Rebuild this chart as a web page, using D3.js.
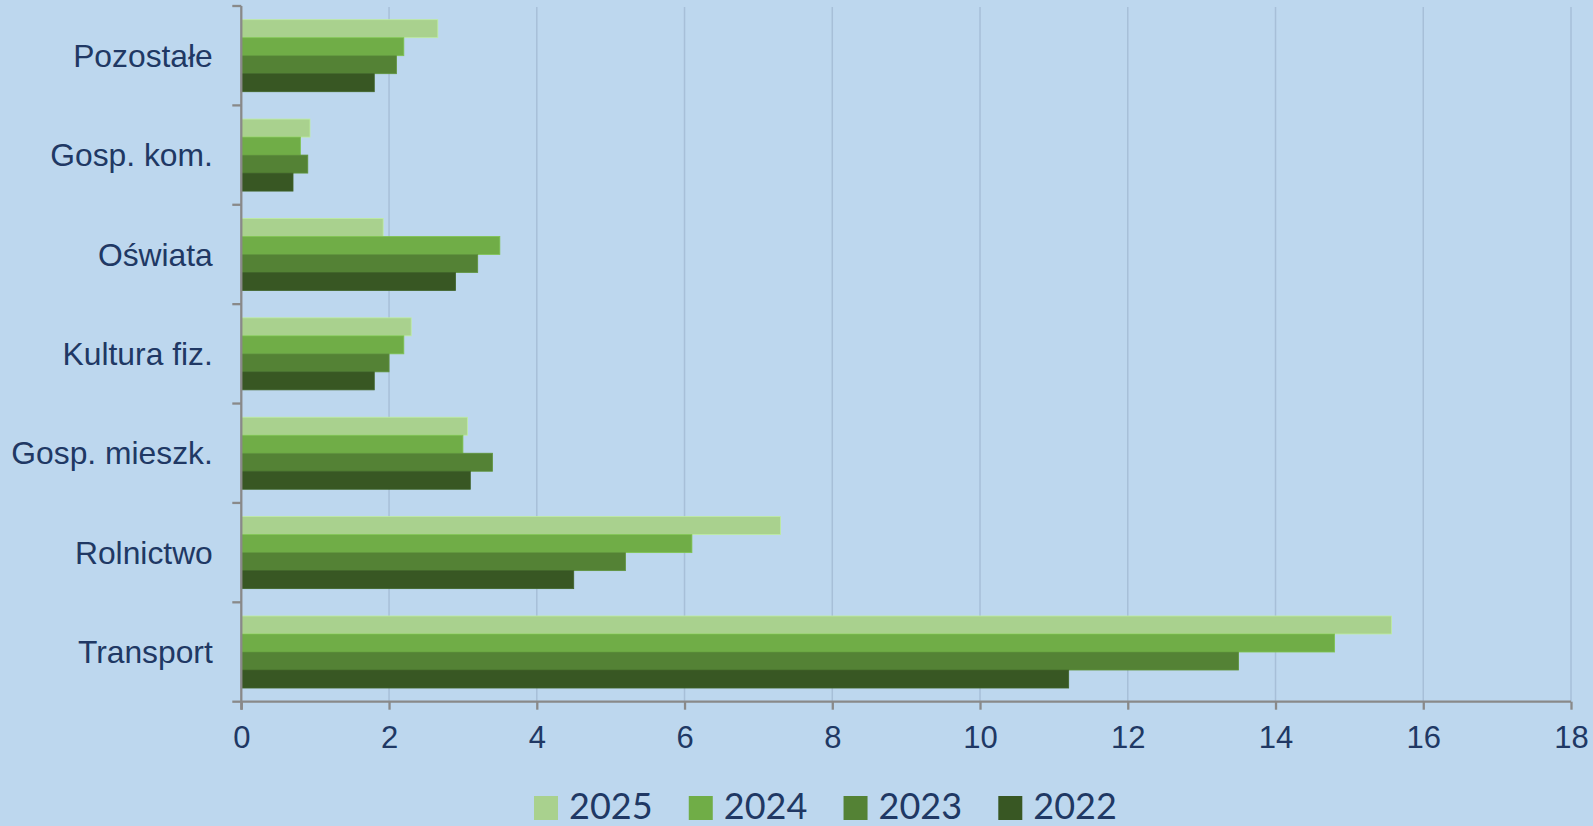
<!DOCTYPE html>
<html>
<head>
<meta charset="utf-8">
<script src="https://cdn.jsdelivr.net/npm/d3@7"></script>
<style>
  html, body { margin: 0; padding: 0; background: #bdd7ee; }
  svg { display: block; }
  .axis text { font-family: "Liberation Sans", Arial, sans-serif; fill: #203864; }
</style>
</head>
<body>
<div class="chart"></div>
<script>
// categories top to bottom
const categories = ['Pozostałe', 'Gosp. kom.', 'Oświata', 'Kultura fiz.', 'Gosp. mieszk.', 'Rolnictwo', 'Transport'];
const years = ['2025', '2024', '2023', '2022'];
const v2025 = [2.66, 0.93, 1.92, 2.3, 3.06, 7.3, 15.57];
const v2024 = [2.2, 0.8, 3.5, 2.2, 3.0, 6.1, 14.8];
const v2023 = [2.1, 0.9, 3.2, 2.0, 3.4, 5.2, 13.5];
const v2022 = [1.8, 0.7, 2.9, 1.8, 3.1, 4.5, 11.2];
const xTicks = [0, 2, 4, 6, 8, 10, 12, 14, 16, 18];
const colors = ['#a9d18e', '#70ad47', '#548235', '#385723'];

const seriesValues = {'2025': v2025, '2024': v2024, '2023': v2023, '2022': v2022};

const W = 1593, H = 826;
const plotLeft = 241.3, plotRight = 1571, plotTop = 6, plotBottom = 701.7;

const svg = d3.select('.chart').append('svg')
	.attr('width', W)
	.attr('height', H);

svg.append('rect').attr('width', W).attr('height', H).attr('fill', '#bdd7ee');

const xScale = d3.scaleLinear().domain([0, 18]).range([plotLeft, plotRight]);
const yScale = d3.scaleBand().domain(categories).range([plotTop, plotBottom]).padding(0);
const ySub = d3.scaleBand().domain(years).range([0, yScale.bandwidth()]).paddingInner(0).paddingOuter(0.76);
const color = d3.scaleOrdinal().domain(years).range(colors);

// gridlines
svg.append('g')
	.selectAll('line')
	.data(xTicks.slice(1))
	.enter()
	.append('line')
	.attr('x1', d => xScale(d)).attr('x2', d => xScale(d))
	.attr('y1', plotTop + 1).attr('y2', plotBottom)
	.attr('stroke', '#a7bfd8')
	.attr('stroke-width', 1.5);

// bars
const rows = [];
categories.forEach((c, i) => {
	years.forEach(y => rows.push({cat: c, year: y, value: seriesValues[y][i]}));
});

svg.append('g')
	.selectAll('rect')
	.data(rows)
	.enter()
	.append('rect')
	.attr('x', xScale(0))
	.attr('y', d => yScale(d.cat) + ySub(d.year))
	.attr('width', d => xScale(d.value) - xScale(0))
	.attr('height', ySub.bandwidth())
	.attr('fill', d => color(d.year))
	.attr('stroke', d => d3.color(color(d.year)).brighter(0.35))
	.attr('stroke-width', 0.8);

// x axis
const xAxis = d3.axisBottom(xScale).tickValues(xTicks).tickSize(8).tickPadding(16).tickFormat(d3.format('d'));
const gx = svg.append('g')
	.attr('class', 'axis x-axis')
	.attr('transform', `translate(0,${plotBottom})`)
	.call(xAxis);
gx.select('.domain').attr('stroke', '#898989').attr('stroke-width', 2.3).attr('d', `M${plotLeft},0H${plotRight}`);
gx.selectAll('.tick line').attr('stroke', '#898989').attr('stroke-width', 2.3);
gx.selectAll('.tick text').attr('font-size', '31px').attr('dy', '0.71em');

// y axis: ticks at band boundaries
const yAxisG = svg.append('g').attr('class', 'axis y-axis');
yAxisG.append('line')
	.attr('x1', plotLeft).attr('x2', plotLeft)
	.attr('y1', plotTop).attr('y2', plotBottom + 8)
	.attr('stroke', '#898989').attr('stroke-width', 2.3);
const bounds = categories.map(c => yScale(c)).concat([plotBottom]);
yAxisG.selectAll('.btick')
	.data(bounds)
	.enter()
	.append('line')
	.attr('class', 'btick')
	.attr('x1', plotLeft - 9).attr('x2', plotLeft)
	.attr('y1', d => d).attr('y2', d => d)
	.attr('stroke', '#898989').attr('stroke-width', 2.3);
yAxisG.selectAll('.lbl')
	.data(categories)
	.enter()
	.append('text')
	.attr('class', 'lbl')
	.attr('x', plotLeft - 28.5)
	.attr('y', d => yScale(d) + yScale.bandwidth() / 2)
	.attr('dy', '0.35em')
	.attr('text-anchor', 'end')
	.attr('font-size', '31.8px')
	.text(d => d);

// legend
const legend = svg.append('g').attr('class', 'legend');
const legX = d3.scalePoint().domain(years).range([534, 998.3]);
legend.selectAll('rect')
	.data(years)
	.enter()
	.append('rect')
	.attr('x', d => legX(d))
	.attr('y', 796)
	.attr('width', 24)
	.attr('height', 24)
	.attr('fill', d => color(d));
legend.selectAll('text')
	.data(years)
	.enter()
	.append('text')
	.attr('x', d => legX(d) + 35)
	.attr('y', 819)
	.attr('font-family', 'Lato, "Open Sans", sans-serif')
	.attr('font-size', '36px')
	.attr('fill', '#203864')
	.text(d => d);
</script>
</body>
</html>
